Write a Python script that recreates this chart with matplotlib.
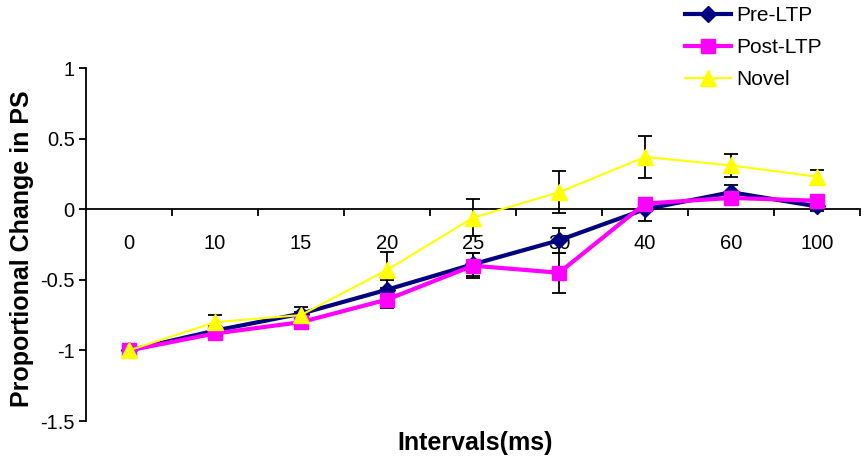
import matplotlib
matplotlib.use("Agg")
import matplotlib.pyplot as plt
import numpy as np
from matplotlib.ticker import FixedLocator

plt.rcParams["font.family"] = ["Liberation Sans", "DejaVu Sans"]

intervals = ["0", "10", "15", "20", "25", "30", "40", "60", "100"]
pre_ltp = [-1.0, -0.86, -0.74, -0.57, -0.39, -0.22, 0.0, 0.12, 0.02]
pre_err = [0.0, 0.03, 0.05, 0.07, 0.08, 0.09, 0.08, 0.05, 0.03]
post_ltp = [-1.0, -0.88, -0.80, -0.64, -0.40, -0.45, 0.04, 0.08, 0.06]
post_err = [0.0, 0.03, 0.04, 0.06, 0.09, 0.14, 0.04, 0.04, 0.03]
novel = [-1.0, -0.80, -0.75, -0.43, -0.06, 0.12, 0.37, 0.31, 0.23]
novel_err = [0.0, 0.05, 0.02, 0.13, 0.13, 0.15, 0.15, 0.08, 0.05]

x = np.arange(len(intervals))

fig = plt.figure(figsize=(8.68, 4.68), dpi=100)
ax = fig.add_axes([0.099, 0.1004, 0.892, 0.7543])

series = [
    ("Pre-LTP", pre_ltp, pre_err, "#000080", "D", 8, 3.0),
    ("Post-LTP", post_ltp, post_err, "#FF00FF", "s", 10, 3.0),
    ("Novel", novel, novel_err, "#FFFF00", "^", 12, 1.5),
]
for name, vals, errs, color, marker, ms, lw in series:
    ax.errorbar(x, vals, yerr=errs, fmt="none", ecolor="black", elinewidth=1.3,
                capsize=5, capthick=1.3, zorder=2)
for name, vals, errs, color, marker, ms, lw in series:
    ax.plot(x, vals, color=color, marker=marker, markersize=ms, linewidth=lw,
            markeredgecolor=color, label=name, zorder=3)

ax.set_xlim(-0.5, len(intervals) - 0.5)
ax.set_ylim(-1.5, 1.0)
ax.set_yticks([-1.5, -1, -0.5, 0, 0.5, 1])
ax.set_yticklabels(["-1.5", "-1", "-0.5", "0", "0.5", "1"])
ax.set_xticks(x)
ax.set_xticklabels(intervals)
ax.xaxis.set_minor_locator(FixedLocator(np.arange(0.5, len(intervals), 1.0)))

for side in ("top", "right"):
    ax.spines[side].set_visible(False)
ax.spines["bottom"].set_position(("data", 0))
ax.spines["bottom"].set_linewidth(1.3)
ax.spines["left"].set_linewidth(1.3)

ax.tick_params(axis="y", direction="out", length=5, width=1.3, labelsize=14.5, pad=3)
ax.tick_params(axis="x", which="major", length=0, labelsize=14.5, pad=17.5)
ax.tick_params(axis="x", which="minor", direction="out", length=5, width=1.3)

fig.text(22 / 868, 1 - 249 / 468, "Proportional Change in PS", rotation=90,
         ha="center", va="center", fontsize=18, fontweight="bold")
fig.text(475 / 868, 1 - 443 / 468, "Intervals(ms)", ha="center", va="center",
         fontsize=18, fontweight="bold")

leg = ax.legend(loc="upper left", bbox_to_anchor=(683 / 868, 1 - 4 / 468),
                bbox_transform=fig.transFigure, frameon=False, fontsize=15,
                handlelength=2.2, labelspacing=0.62, handletextpad=0.25,
                borderpad=0.1, borderaxespad=0)

fig.savefig("out.png", dpi=100)
